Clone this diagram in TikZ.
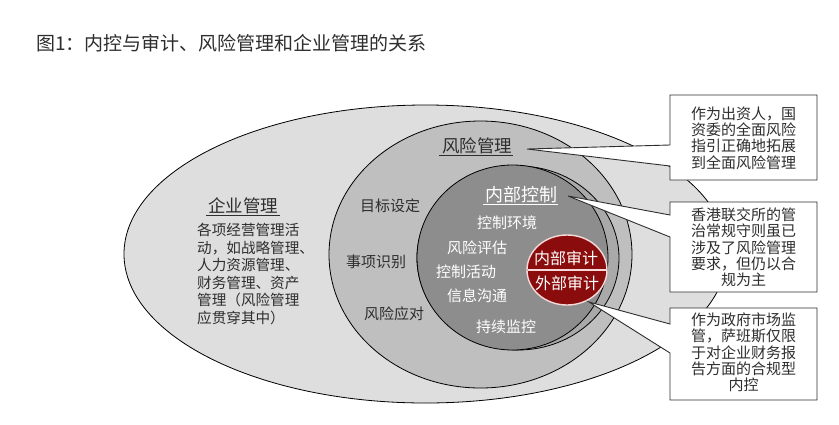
\documentclass[tikz,border=0pt]{standalone}
\usepackage{fontspec}
\setmainfont{Noto Sans CJK SC}
\usetikzlibrary{calc}
\definecolor{outerfill}{HTML}{DEDEDE}
\definecolor{midfill}{HTML}{BFBFBF}
\definecolor{shadowfill}{HTML}{A9A9A9}
\definecolor{innerfill}{HTML}{8D8D8D}
\definecolor{auditred}{HTML}{8A0C0C}
\definecolor{ringpink}{HTML}{F7D9D9}
\definecolor{txtdark}{HTML}{2E2E2E}
\begin{document}
\begin{tikzpicture}[x=1pt,y=-1pt,
  shapeline/.style={draw=black, line width=0.8pt},
  lbl/.style={inner sep=0pt, font=\fontsize{15}{16}\selectfont, text=txtdark},
  wlbl/.style={lbl, text=white},
  head/.style={inner sep=0pt, font=\fontsize{17.5}{18}\selectfont, text=txtdark},
  whead/.style={head, text=white, font=\fontsize{18}{19}\selectfont},
  redlbl/.style={inner sep=0pt, font=\fontsize{16}{17}\selectfont, text=white},
  boxtxt/.style={inner sep=0pt, align=center, font=\fontsize{15}{16.3}\selectfont, text=txtdark},
  callout/.style={draw=txtdark, line width=0.9pt, fill=white, line join=miter},
  uline/.style={line width=0.9pt}
]
\useasboundingbox (0,0) rectangle (839,424);
\fill[white] (0,0) rectangle (839,424);

% title
\node[anchor=west, inner sep=0pt, font=\fontsize{19}{20}\selectfont, text=txtdark] (title) at (36,43) {图1：内控与审计、风险管理和企业管理的关系};

% ellipses
\draw[shapeline, fill=outerfill] (425.5,254) ellipse [x radius=301.5, y radius=149];
\draw[shapeline, fill=midfill] (480.5,254.5) ellipse [x radius=151.5, y radius=133.5];
\draw[shapeline, fill=shadowfill] (518,258) ellipse [x radius=101, y radius=92];
\draw[shapeline, fill=innerfill] (512.5,257.5) ellipse [x radius=95.5, y radius=92.5];

% red audit circle
\draw[draw=ringpink, line width=1.4pt, fill=auditred] (567,270) ellipse [x radius=40, y radius=35];
\draw[draw=ringpink, line width=1.2pt] (527.5,270) -- (606.5,270);
\node[redlbl] (ia) at (566,258) {内部审计};
\node[redlbl] (ea) at (567,283) {外部审计};

% enterprise management
\node[head] (em) at (243,206) {企业管理};
\draw[uline, txtdark] ($(em.south west)+(-2,1.5)$) -- ($(em.south east)+(2,1.5)$);
\node[anchor=west, inner sep=0pt, align=left, font=\fontsize{14.6}{17.6}\selectfont, text=txtdark] (emtxt) at (197,274)
  {各项经营管理活\\动，如战略管理、\\人力资源管理、\\财务管理、资产\\管理（风险管理\\应贯穿其中）};

% risk management
\node[head] (rm) at (477,146) {风险管理};
\draw[uline, txtdark] ($(rm.south west)+(-3,1)$) -- ($(rm.south east)+(1,1)$);
\node[lbl] (rm1) at (390,206) {目标设定};
\node[lbl] (rm2) at (376,262) {事项识别};
\node[lbl] (rm3) at (394,314) {风险应对};

% internal control
\node[whead] (ic) at (521,195) {内部控制};
\draw[uline, white] ($(ic.south west)+(-2,1)$) -- ($(ic.south east)+(1,1)$);
\node[wlbl] (ic1) at (507,223) {控制环境};
\node[wlbl] (ic2) at (477,248) {风险评估};
\node[wlbl] (ic3) at (466,272) {控制活动};
\node[wlbl] (ic4) at (477,296) {信息沟通};
\node[wlbl] (ic5) at (506,327) {持续监控};

% callout tips
\coordinate (tip1) at (527,149);
\coordinate (tip2) at (568,196);
\coordinate (tip3) at (589,302);

% callouts
\draw[callout] (670,95) -- (817,95) -- (817,180) -- (670,180) -- (670,166) -- (tip1) -- (670,145) -- cycle;
\draw[callout] (670,202) -- (817,202) -- (817,292) -- (670,292) -- (670,237) -- (tip2) -- (670,215) -- cycle;
\draw[callout] (670,308) -- (817,308) -- (817,400) -- (670,400) -- (670,353) -- (tip3) -- (670,324) -- cycle;

\node[boxtxt] (b1) at (743.5,138) {作为出资人，国\\资委的全面风险\\指引正确地拓展\\到全面风险管理};
\node[boxtxt] (b2) at (743.5,247.5) {香港联交所的管\\治常规守则虽已\\涉及了风险管理\\要求，但仍以合\\规为主};
\node[boxtxt] (b3) at (743.5,352.5) {作为政府市场监\\管，萨班斯仅限\\于对企业财务报\\告方面的合规型\\内控};
\end{tikzpicture}
\end{document}
